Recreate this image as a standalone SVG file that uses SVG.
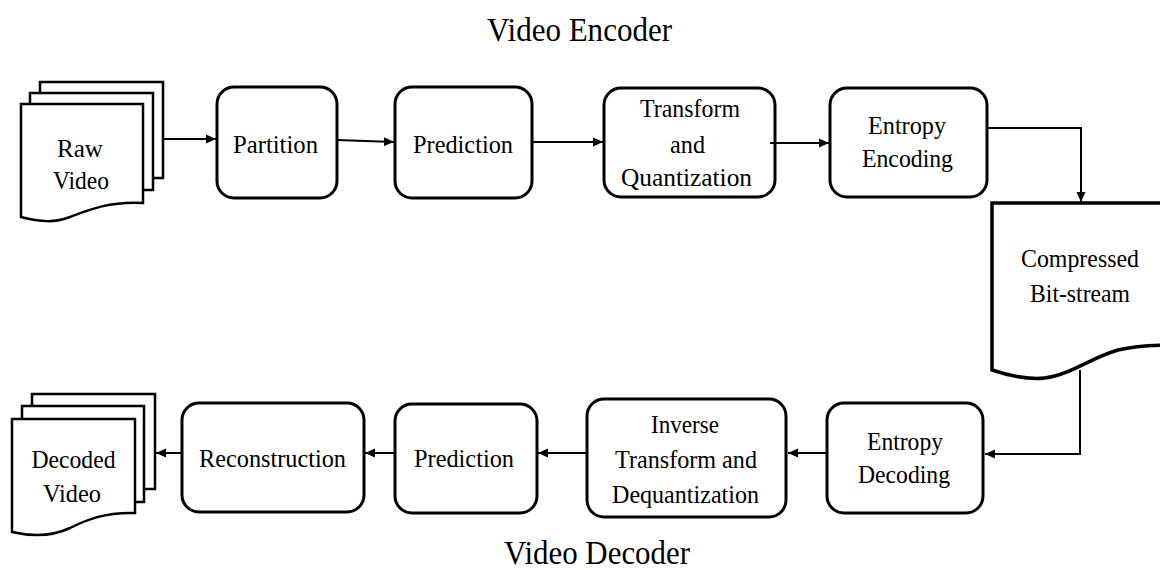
<svg xmlns="http://www.w3.org/2000/svg" width="1160" height="570" viewBox="0 0 1160 570">
  <style>
    .lbl { font-family: "Liberation Serif", "Times New Roman", serif; font-size: 26px; fill: #000; text-anchor: middle; }
    .ttl { font-family: "Liberation Serif", "Times New Roman", serif; font-size: 34px; fill: #000; text-anchor: middle; }
    .box { fill: #fff; stroke: #000; stroke-width: 3; }
    .sheet { fill: #fff; stroke: #000; stroke-width: 2.5; stroke-linejoin: miter; }
    .doc { fill: #fff; stroke: #000; stroke-width: 3.5; }
    .conn { fill: none; stroke: #000; stroke-width: 2; }
  </style>
  <defs>
    <marker id="arrow" markerUnits="userSpaceOnUse" markerWidth="10" markerHeight="10" refX="10" refY="5" orient="auto">
      <path d="M0,0.5 L10,5 L0,9.5 z" fill="#000"/>
    </marker>
  </defs>
  <rect width="1160" height="570" fill="#fff"/>

  <!-- section titles -->
  <text class="ttl" x="579.5" y="41" textLength="185" lengthAdjust="spacingAndGlyphs">Video Encoder</text>
  <text class="ttl" x="597" y="564" textLength="186" lengthAdjust="spacingAndGlyphs">Video Decoder</text>

  <!-- encoder input: stack of frames -->
  <g id="raw-video">
    <rect class="sheet" x="40" y="82" width="123" height="96"/>
    <rect class="sheet" x="30" y="93" width="123" height="97"/>
    <path class="sheet" d="M21,104 H143 V203 C110,201 88,210 70,217 C55,223 40,222 21,217 Z"/>
    <text class="lbl" x="80" y="157" textLength="46" lengthAdjust="spacingAndGlyphs">Raw</text>
    <text class="lbl" x="81" y="189" textLength="56" lengthAdjust="spacingAndGlyphs">Video</text>
  </g>

  <g id="partition">
    <rect class="box" x="217" y="87" width="120" height="111" rx="17"/>
    <text class="lbl" x="275.5" y="153" textLength="85" lengthAdjust="spacingAndGlyphs">Partition</text>
  </g>

  <g id="prediction-enc">
    <rect class="box" x="395" y="87" width="137" height="111" rx="17"/>
    <text class="lbl" x="463" y="153" textLength="100" lengthAdjust="spacingAndGlyphs">Prediction</text>
  </g>

  <g id="transform-quant">
    <rect class="box" x="604" y="88" width="171" height="109" rx="17"/>
    <text class="lbl" x="690" y="117" textLength="100" lengthAdjust="spacingAndGlyphs">Transform</text>
    <text class="lbl" x="687.5" y="153" textLength="35" lengthAdjust="spacingAndGlyphs">and</text>
    <text class="lbl" x="686.5" y="186" textLength="131" lengthAdjust="spacingAndGlyphs">Quantization</text>
  </g>

  <g id="entropy-encoding">
    <rect class="box" x="830" y="88" width="157" height="109" rx="17"/>
    <text class="lbl" x="907" y="134" textLength="78" lengthAdjust="spacingAndGlyphs">Entropy</text>
    <text class="lbl" x="907.5" y="167" textLength="91" lengthAdjust="spacingAndGlyphs">Encoding</text>
  </g>

  <!-- bit-stream document, running off the right edge -->
  <g id="bitstream">
    <path class="doc" d="M1170,203 H992 V370 C1010,376 1028,380 1045,378 C1070,375 1090,358 1118,350 C1135,346 1150,345 1170,345"/>
    <text class="lbl" x="1080" y="267" textLength="118" lengthAdjust="spacingAndGlyphs">Compressed</text>
    <text class="lbl" x="1080" y="302" textLength="100" lengthAdjust="spacingAndGlyphs">Bit-stream</text>
  </g>

  <g id="entropy-decoding">
    <rect class="box" x="827" y="403" width="156" height="110" rx="17"/>
    <text class="lbl" x="905" y="450" textLength="76" lengthAdjust="spacingAndGlyphs">Entropy</text>
    <text class="lbl" x="904" y="483" textLength="92" lengthAdjust="spacingAndGlyphs">Decoding</text>
  </g>

  <g id="inverse-transform">
    <rect class="box" x="587" y="399" width="199" height="118" rx="17"/>
    <text class="lbl" x="685" y="433" textLength="68" lengthAdjust="spacingAndGlyphs">Inverse</text>
    <text class="lbl" x="686" y="468" textLength="142" lengthAdjust="spacingAndGlyphs">Transform  and</text>
    <text class="lbl" x="685.5" y="503" textLength="147" lengthAdjust="spacingAndGlyphs">Dequantization</text>
  </g>

  <g id="prediction-dec">
    <rect class="box" x="395" y="404" width="142" height="109" rx="17"/>
    <text class="lbl" x="464" y="467" textLength="100" lengthAdjust="spacingAndGlyphs">Prediction</text>
  </g>

  <g id="reconstruction">
    <rect class="box" x="182" y="403" width="182" height="109" rx="17"/>
    <text class="lbl" x="272.5" y="467" textLength="147" lengthAdjust="spacingAndGlyphs">Reconstruction</text>
  </g>

  <!-- decoder output: stack of frames -->
  <g id="decoded-video">
    <rect class="sheet" x="32" y="394" width="123" height="95"/>
    <rect class="sheet" x="22" y="406" width="122" height="96"/>
    <path class="sheet" d="M12,419 H135 V513 C105,512 86,520 70,528 C55,535 38,538 12,532 Z"/>
    <text class="lbl" x="73.5" y="468" textLength="84" lengthAdjust="spacingAndGlyphs">Decoded</text>
    <text class="lbl" x="72" y="502" textLength="58" lengthAdjust="spacingAndGlyphs">Video</text>
  </g>

  <g id="connectors">
    <path class="conn" marker-end="url(#arrow)" d="M163,139 H216"/>
    <path class="conn" marker-end="url(#arrow)" d="M337,140 L394,142"/>
    <path class="conn" marker-end="url(#arrow)" d="M532,142 H603"/>
    <path class="conn" marker-end="url(#arrow)" d="M770,143 H829"/>
    <path class="conn" marker-end="url(#arrow)" d="M987,128 H1081 V202"/>
    <path class="conn" marker-end="url(#arrow)" d="M1080,370 V454 H985"/>
    <path class="conn" marker-end="url(#arrow)" d="M827,453 H788"/>
    <path class="conn" marker-end="url(#arrow)" d="M587,453 H538"/>
    <path class="conn" marker-end="url(#arrow)" d="M395,453 H365"/>
    <path class="conn" marker-end="url(#arrow)" d="M182,453 H156"/>
  </g>
</svg>
